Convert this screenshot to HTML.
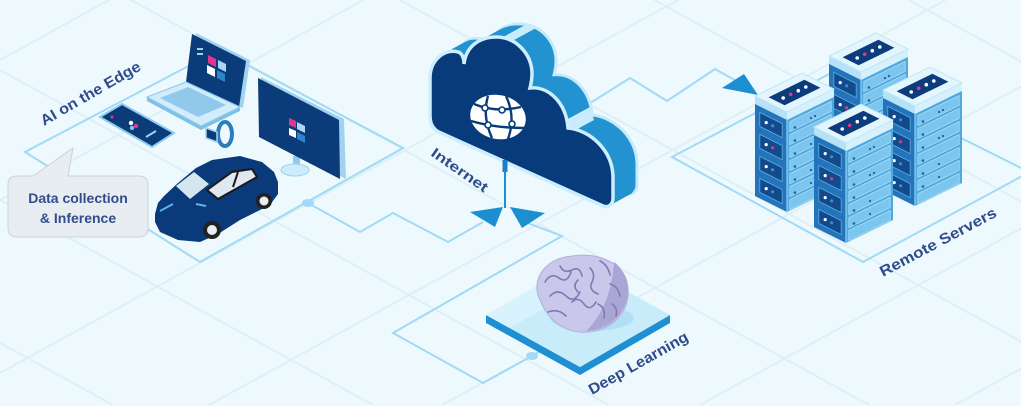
<!DOCTYPE html>
<html><head><meta charset="utf-8"><style>
html,body{margin:0;padding:0;background:#fff;width:1024px;height:419px;overflow:hidden;}
svg{display:block;}
text{font-family:"Liberation Sans",sans-serif;font-weight:bold;fill:#2f4c8c;}
</style></head><body>
<svg width="1024" height="419" viewBox="0 0 1024 419" xmlns="http://www.w3.org/2000/svg" style="display:block">
<defs>
<path id="cloud" d="M441,133 C433,130 430,124 430,116 L430,78 C430,60 445,48 458,52 C462,53 464,58 464,64 C466,46 480,37 496,37 C516,37 532,54 532,74 C532,80 531,84 530,88 C548,86 566,102 568,128 C590,130 612,150 613,176 L613,198 C613,205 608,208 603,206 Z"/>
<g id="tower">
  <polygon points="0,7 -32,-9 -32,84 0,100" fill="#2474bb"/>
  <polygon points="0,7 47,-16 47,77 0,100" fill="#4fa8de"/>
  <polygon points="0,0 -32,-16 -32,-8 0,8" fill="#b5e2f7"/>
  <polygon points="0,0 47,-23 47,-15 0,8" fill="#d6f0fc"/>
  <polygon points="0,0 -32,-16 15,-39 47,-23" fill="#e3f6fe" stroke="#bfe6f8" stroke-width="1"/>
  <polygon points="-2.4,-6.8 33.4,-24.2 17.4,-32.2 -18.4,-14.8" fill="#0d3c7c"/>
  <circle cx="-3.8" cy="-14" r="1.8" fill="#fff"/>
  <circle cx="3.7" cy="-17.7" r="1.8" fill="#e3358f"/>
  <circle cx="11.3" cy="-21.3" r="1.8" fill="#fff"/>
  <circle cx="18.8" cy="-25" r="1.8" fill="#fff"/>
  <g fill="#124a8c" stroke="#5aaee0" stroke-width="0.8">
    <polygon points="-4.8,11.6 -27.2,0.4 -27.2,14.4 -4.8,25.6"/>
    <polygon points="-4.8,33.6 -27.2,22.4 -27.2,36.4 -4.8,47.6"/>
    <polygon points="-4.8,55.6 -27.2,44.4 -27.2,58.4 -4.8,69.6"/>
    <polygon points="-4.8,77.6 -27.2,66.4 -27.2,80.4 -4.8,91.6"/>
  </g>
  <g fill="#fff">
    <circle cx="-20.8" cy="10.6" r="1.6"/><circle cx="-20.8" cy="32.6" r="1.6"/>
    <circle cx="-20.8" cy="54.6" r="1.6"/><circle cx="-20.8" cy="76.6" r="1.6"/>
  </g>
  <g fill="#3a8fd0">
    <circle cx="-14.4" cy="13.8" r="1.6"/><circle cx="-14.4" cy="35.8" r="1.6" fill="#e3358f"/>
    <circle cx="-14.4" cy="57.8" r="1.6"/><circle cx="-14.4" cy="79.8" r="1.6"/>
  </g>
  <g fill="#7cc5ee" stroke="#a8dcf6" stroke-width="0.8">
    <polygon points="2.8,9.6 44.2,-10.6 44.2,-0.6 2.8,19.6"/>
    <polygon points="2.8,22.6 44.2,2.4 44.2,12.4 2.8,32.6"/>
    <polygon points="2.8,35.6 44.2,15.4 44.2,25.4 2.8,45.6"/>
    <polygon points="2.8,48.6 44.2,28.4 44.2,38.4 2.8,58.6"/>
    <polygon points="2.8,61.6 44.2,41.4 44.2,51.4 2.8,71.6"/>
    <polygon points="2.8,74.6 44.2,54.4 44.2,64.4 2.8,84.6"/>
    <polygon points="2.8,87.6 44.2,67.4 44.2,77.4 2.8,97.6"/>
  </g>
  <g fill="#1f5f9e">
    <circle cx="8" cy="15.5" r="1.3"/><circle cx="8" cy="28.5" r="1.3"/><circle cx="8" cy="41.5" r="1.3"/>
    <circle cx="8" cy="54.5" r="1.3"/><circle cx="8" cy="67.5" r="1.3"/><circle cx="8" cy="80.5" r="1.3"/>
    <circle cx="24" cy="6" r="1.1"/><circle cx="28" cy="4" r="1.1"/><circle cx="24" cy="32" r="1.1"/>
    <circle cx="28" cy="30" r="1.1"/><circle cx="24" cy="58" r="1.1"/><circle cx="24" cy="71" r="1.1"/>
  </g>
  <line x1="0" y1="8" x2="0" y2="100" stroke="#8fd0f2" stroke-width="1.2"/>
</g>
</defs>

<rect x="0" y="0" width="1021" height="406" fill="#eef9fd"/>

<!-- faint grid -->
<g stroke="#dfeff7" stroke-width="2" fill="none">
  <line x1="654.5" y1="0" x2="1021" y2="201.6"/>
  <line x1="400" y1="0" x2="1021" y2="341.6"/>
  <line x1="130.9" y1="0" x2="869" y2="405"/>
  <line x1="0" y1="70" x2="609" y2="405"/>
  <line x1="0" y1="200" x2="373" y2="405"/>
  <line x1="0" y1="343" x2="113" y2="405"/>
  <line x1="909" y1="0" x2="1021" y2="61.6"/>
  <line x1="0" y1="60" x2="109" y2="0"/>
  <line x1="0" y1="200" x2="363.6" y2="0"/>
  <line x1="0" y1="373" x2="678" y2="0"/>
  <line x1="209" y1="405" x2="945.5" y2="0"/>
  <line x1="442" y1="405" x2="1021" y2="86.5"/>
  <line x1="700" y1="405" x2="1021" y2="228.5"/>
  <line x1="955" y1="405" x2="1021" y2="368.5"/>
</g>

<!-- connectors -->
<g stroke="#a0daf6" stroke-width="2" fill="none" stroke-linejoin="miter">
  <polyline points="219,50 25,152 200,262 403,148 219,50"/>
  <polyline points="308,203 360,232 393,213 448,242 483,222"/>
  <polyline points="525,222 562,236 393,333 483,383 532,356 548,347"/>
  <polyline points="587,105 630,78 667,101 715,69 740,83"/>
  <polyline points="831,73 672,157 863,262 1021,176.7"/>
  <polyline points="831,73 1021,168"/>
</g>
<ellipse cx="308" cy="203" rx="6" ry="4" fill="#a0daf6"/>
<ellipse cx="532" cy="356" rx="6" ry="4" fill="#a0daf6"/>

<!-- platform + brain -->
<polygon points="486,315 580,367 670,315 670,323 580,375 486,323" fill="#1e8fd2"/>
<polygon points="486,315 576,263 670,315 580,367" fill="#c9ecfb"/>
<polygon points="486,315 576,263 600,276 510,328" fill="#d8f3fd"/>
<ellipse cx="592" cy="318" rx="42" ry="13" fill="#b3dff4"/>
<path d="M540,300 C530,280 545,258 572,256 C600,252 626,264 628,288 C630,312 612,330 588,332 C565,334 548,320 540,300 Z" fill="#cac8ea" stroke="#b0aedc" stroke-width="1"/>
<path d="M586,331 C610,330 628,312 628,290 C628,278 622,268 614,262 C612,292 602,316 586,331 Z" fill="#a9a6d6"/>
<g stroke="#7d7ab5" stroke-width="1.6" fill="none" stroke-linecap="round">
  <path d="M545,282 q6,-10 14,-4 t12,-6"/>
  <path d="M550,296 q8,-8 16,0 t14,-4"/>
  <path d="M560,266 q4,8 12,4 t10,6"/>
  <path d="M572,302 q6,-6 12,2 t12,-2"/>
  <path d="M590,268 q6,6 2,14 t6,12"/>
  <path d="M600,261 q8,4 10,14"/>
  <path d="M548,312 q10,-4 18,4"/>
  <path d="M610,284 q8,2 10,12"/>
  <path d="M578,280 q-6,6 0,12"/>
  <path d="M598,304 q8,4 6,14"/>
  <path d="M612,304 q6,4 4,12"/>
</g>

<!-- cloud extrusion -->
<use href="#cloud" transform="translate(24,-13)" fill="#2392d0" stroke="#c5eafb" stroke-width="3"/>
<g fill="#2392d0">
  <use href="#cloud" transform="translate(21.3,-11.6)"/>
  <use href="#cloud" transform="translate(18.7,-10.1)"/>
  <use href="#cloud" transform="translate(16,-8.7)"/>
  <use href="#cloud" transform="translate(13.3,-7.2)"/>
  <use href="#cloud" transform="translate(10.7,-5.8)"/>
  <use href="#cloud" transform="translate(8,-4.3)"/>
  <use href="#cloud" transform="translate(5.3,-2.9)"/>
  <use href="#cloud" transform="translate(2.7,-1.4)"/>
</g>
<polygon points="503,37 514,40 538,27 527,24" fill="#c8ecfb"/>
<polygon points="566,120 570,133 594,120 590,107" fill="#c8ecfb"/>
<use href="#cloud" fill="#073b7c" stroke="#cdeefc" stroke-width="3.5"/>

<!-- globe -->
<ellipse cx="498" cy="117" rx="28" ry="22" transform="rotate(12 498 117)" fill="#fff"/>
<g stroke="#073b7c" stroke-width="2.4" fill="none">
  <path d="M474,104 Q495,113 521,107"/>
  <path d="M471,121 Q495,128 524,128"/>
  <path d="M488,96 Q482,116 492,138"/>
  <path d="M506,96 Q516,117 508,139"/>
</g>
<g fill="#fff" stroke="#073b7c" stroke-width="1.6">
  <circle cx="485" cy="108" r="3"/><circle cx="502" cy="110" r="3"/>
  <circle cx="512" cy="124" r="3"/><circle cx="488" cy="125" r="3"/>
</g>

<!-- stem and arrowheads -->
<rect x="502.5" y="160" width="5" height="12" fill="#1b7fc0"/>
<line x1="505" y1="170" x2="505" y2="208" stroke="#1b8fd1" stroke-width="2"/>
<polygon points="470,212 503,207 495,227" fill="#1b8fd1"/>
<polygon points="510,207 545,213 522,228" fill="#1b8fd1"/>
<polygon points="722,88 744,74 758,95" fill="#1b8fd1"/>

<!-- servers -->
<use href="#tower" transform="translate(861,72)"/>
<use href="#tower" transform="translate(787,112)"/>
<use href="#tower" transform="translate(915,106)"/>
<use href="#tower" transform="translate(846,143)"/>

<!-- laptop -->
<polygon points="196,33 250,60 243,108 189,83" fill="#9fd3f0"/>
<polygon points="192,34 246,61 239,107 186,82" fill="#0c3b7a"/>
<rect x="197" y="48" width="6" height="2" fill="#9fd3f0"/>
<rect x="197" y="53" width="6" height="2" fill="#9fd3f0"/>
<polygon points="208,55 216,59 216,67 208,63" fill="#e2368f"/>
<polygon points="218,60 226,64 226,72 218,68" fill="#a8d9f1"/>
<polygon points="207,65 215,69 215,77 207,73" fill="#fff"/>
<polygon points="217,70 225,74 225,82 217,78" fill="#2f84c6"/>
<polygon points="147,97 201,126 240,107 240,111 201,130 147,101" fill="#7fc0e8"/>
<polygon points="147,97 186,82 240,107 201,126" fill="#d3ecfa" stroke="#8ccbef" stroke-width="1.2"/>
<polygon points="160,98 188,87 226,105 198,117" fill="#90c9ec"/>

<!-- phone -->
<polygon points="100,117 122,104 174,133 152,147" fill="#0c3b7a" stroke="#8ccbef" stroke-width="2"/>
<circle cx="112" cy="117" r="1.5" fill="#e2368f"/>
<circle cx="131" cy="123" r="2.2" fill="#fff"/>
<circle cx="136" cy="126" r="2.2" fill="#e2368f"/>
<circle cx="132" cy="128" r="2.2" fill="#7fc0e8"/>
<line x1="146" y1="137" x2="156" y2="131" stroke="#9fd3f0" stroke-width="2"/>

<!-- watch -->
<ellipse cx="225" cy="134" rx="7" ry="12" fill="none" stroke="#2a7ec0" stroke-width="4"/>
<polygon points="206,128 217,132 217,142 206,138" fill="#0c3b7a" stroke="#9fd3f0" stroke-width="1.5"/>

<!-- monitor -->
<rect x="293" y="156" width="7" height="12" fill="#8ccbef"/>
<ellipse cx="295" cy="170" rx="14" ry="6" fill="#cdebfa" stroke="#9fd3f0" stroke-width="1"/>
<polygon points="261,77 344,119 346,179 263,138" fill="#9fd3f0"/>
<polygon points="258,78 339,120 340,179 259,137" fill="#0c3b7a"/>
<polygon points="289,118 296,121 296,128 289,125" fill="#e2368f"/>
<polygon points="297,122 305,126 305,133 297,129" fill="#a8d9f1"/>
<polygon points="289,128 296,131 296,138 289,135" fill="#fff"/>
<polygon points="297,132 305,136 305,143 297,139" fill="#2f84c6"/>

<!-- car -->
<path d="M155,214 L158,203 L164,196 L178,183 L196,168 L212,160 L240,156 L262,162 L274,172 L278,182 L278,194 L270,205 L240,220 L218,234 L200,242 L178,240 L160,232 L155,222 Z" fill="#0a3a7a"/>
<polygon points="176,186 194,172 209,184 190,199" fill="#d5e6f1"/>
<polygon points="207,190 232,172 252,169 257,177 218,199" fill="#dfe8f0" stroke="#1a1a1a" stroke-width="2"/>
<line x1="233" y1="187" x2="238" y2="172" stroke="#1a1a1a" stroke-width="2"/>
<line x1="160" y1="211" x2="173" y2="204" stroke="#5fb3e6" stroke-width="2"/>
<line x1="196" y1="204" x2="206" y2="206" stroke="#5fb3e6" stroke-width="2"/>
<circle cx="212" cy="230" r="9" fill="#222"/><circle cx="212" cy="230" r="5" fill="#e9eef3"/>
<circle cx="264" cy="201" r="8" fill="#222"/><circle cx="264" cy="201" r="4.5" fill="#e9eef3"/>

<!-- bubble -->
<path d="M17,176 L33,176 L73,148 L68,176 L139,176 Q148,176 148,185 L148,228 Q148,237 139,237 L17,237 Q8,237 8,228 L8,185 Q8,176 17,176 Z" fill="#e8edf2" stroke="#c9d3dd" stroke-width="1"/>
<text x="78" y="203" font-size="14" text-anchor="middle" fill="#34508e">Data collection</text>
<text x="78" y="223" font-size="14" text-anchor="middle" fill="#34508e">&amp; Inference</text>

<!-- labels -->
<text transform="translate(44,126) rotate(-30)" font-size="15" textLength="113" lengthAdjust="spacingAndGlyphs">AI on the Edge</text>
<text transform="translate(430,155) rotate(35)" font-size="14" textLength="66" lengthAdjust="spacingAndGlyphs">Internet</text>
<text transform="translate(883,277) rotate(-28)" font-size="15" textLength="130" lengthAdjust="spacingAndGlyphs">Remote Servers</text>
<text transform="translate(592,395) rotate(-29.5)" font-size="15" textLength="112" lengthAdjust="spacingAndGlyphs">Deep Learning</text>
</svg>
</body></html>
